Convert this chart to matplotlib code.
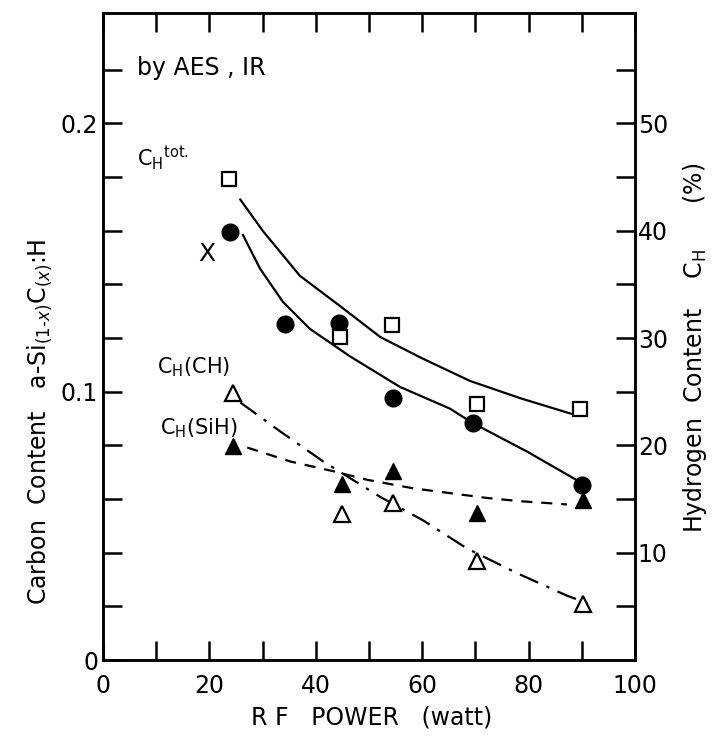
import matplotlib.pyplot as plt
from matplotlib.ticker import MultipleLocator

# measured points
power = [23.9, 34.2, 44.4, 54.5, 69.5, 90.0]
carbon_x = [0.1595, 0.1252, 0.1255, 0.0977, 0.0883, 0.0652]

power_h = [23.7, 44.5, 54.3, 70.3, 89.7]
h_tot = [44.8, 30.1, 31.2, 23.9, 23.4]

power_t = [24.5, 44.9, 54.5, 70.3, 90.2]
h_ch = [24.9, 13.6, 14.6, 9.2, 5.2]
h_sih = [19.9, 16.4, 17.6, 13.7, 14.9]

# hand drawn fit curves
fit_tot_x = [25.8, 30.0, 37.0, 44.5, 52.1, 59.6, 69.0, 78.4, 88.3]
fit_tot_y = [42.9, 40.0, 35.8, 33.0, 30.1, 28.2, 26.0, 24.4, 22.9]

fit_x_x = [26.3, 29.5, 33.8, 38.9, 46.4, 55.8, 65.2, 69.5, 79.7, 89.7]
fit_x_y = [0.1584, 0.1459, 0.1335, 0.1234, 0.1132, 0.1018, 0.0937, 0.0883, 0.0777, 0.0663]

fit_ch_x = [25.8, 33.3, 41.4, 52.1, 60.2, 68.4, 77.8, 87.2, 92.1]
fit_ch_y = [24.0, 21.3, 18.5, 15.2, 13.0, 10.4, 8.1, 6.0, 5.1]

fit_sih_x = [27.1, 35.2, 43.2, 49.6, 58.3, 72.2, 78.4, 87.2]
fit_sih_y = [19.8, 18.5, 17.6, 16.8, 16.0, 15.1, 14.8, 14.5]

plt.rcParams['font.family'] = 'DejaVu Sans'
plt.rcParams['mathtext.fontset'] = 'dejavusans'

fig = plt.figure(figsize=(7.18, 7.40), dpi=100)
ax = fig.add_axes([0.1435, 0.108, 0.741, 0.874])
ax2 = ax.twinx()

# carbon content
ax.plot(fit_x_x, fit_x_y, color='black', lw=1.6)
ax.plot(power, carbon_x, 'o', color='black', ms=12, zorder=5)

# hydrogen content
ax2.plot(fit_tot_x, fit_tot_y, color='black', lw=1.6)
ax2.plot(power_h, h_tot, 's', mfc='white', mec='black', mew=1.6, ms=10, zorder=5)
ax2.plot(fit_ch_x, fit_ch_y, color='black', lw=1.6, dashes=[9, 4, 1.5, 4])
ax2.plot(power_t, h_ch, '^', mfc='white', mec='black', mew=1.6, ms=11, zorder=5)
ax2.plot(fit_sih_x, fit_sih_y, color='black', lw=1.6, dashes=[5, 4])
ax2.plot(power_t, h_sih, '^', color='black', ms=11, zorder=5)

ymax = 0.241
ax.set_xlim(0, 100)
ax.set_ylim(0, ymax)
ax2.set_ylim(0, ymax * 250)

for a in (ax, ax2):
    for s in a.spines.values():
        s.set_linewidth(1.8)

ax.set_xticks([0, 20, 40, 60, 80, 100])
ax.set_xticks([10, 30, 50, 70, 90], minor=True)
ax.set_yticks([0, 0.1, 0.2])
ax.set_yticklabels(['0', '0.1', '0.2'])
ax.set_yticks([0.02, 0.04, 0.06, 0.08, 0.12, 0.14, 0.16, 0.18, 0.22], minor=True)
ax.tick_params(which='both', direction='in', length=14, width=1.8, labelsize=17,
               top=True, right=False)
ax.tick_params(axis='x', pad=10)

ax2.set_yticks([10, 20, 30, 40, 50])
ax2.set_yticks([5, 15, 25, 35, 45, 55], minor=True)
ax2.tick_params(which='both', direction='in', length=14, width=1.8, labelsize=17, pad=2)

ax.text(6.4, 0.2205, 'by AES , IR', fontsize=17, va='center')
ax.text(6.4, 0.184, r'C$_{\mathrm{H}}$$^{\mathrm{tot.}}$', fontsize=15, va='baseline')
ax.text(19.5, 0.1515, 'X', fontsize=18, va='center', ha='center')
ax.text(10.2, 0.107, r'C$_{\mathrm{H}}$(CH)', fontsize=15, va='baseline')
ax.text(10.7, 0.084, r'C$_{\mathrm{H}}$(SiH)', fontsize=15, va='baseline')

fig.text(0.517, 0.03, 'R F   POWER   (watt)', fontsize=17, ha='center', va='center')
fig.text(0.055, 0.43, r'Carbon  Content   a-Si$_{(1\text{-}x)}$C$_{(x)}$:H', fontsize=17,
         rotation=90, ha='center', va='center')
fig.text(0.968, 0.53, r'Hydrogen  Content    C$_{\mathrm{H}}$      (%)', fontsize=17,
         rotation=90, ha='center', va='center')

fig.savefig('out.png', dpi=100)
